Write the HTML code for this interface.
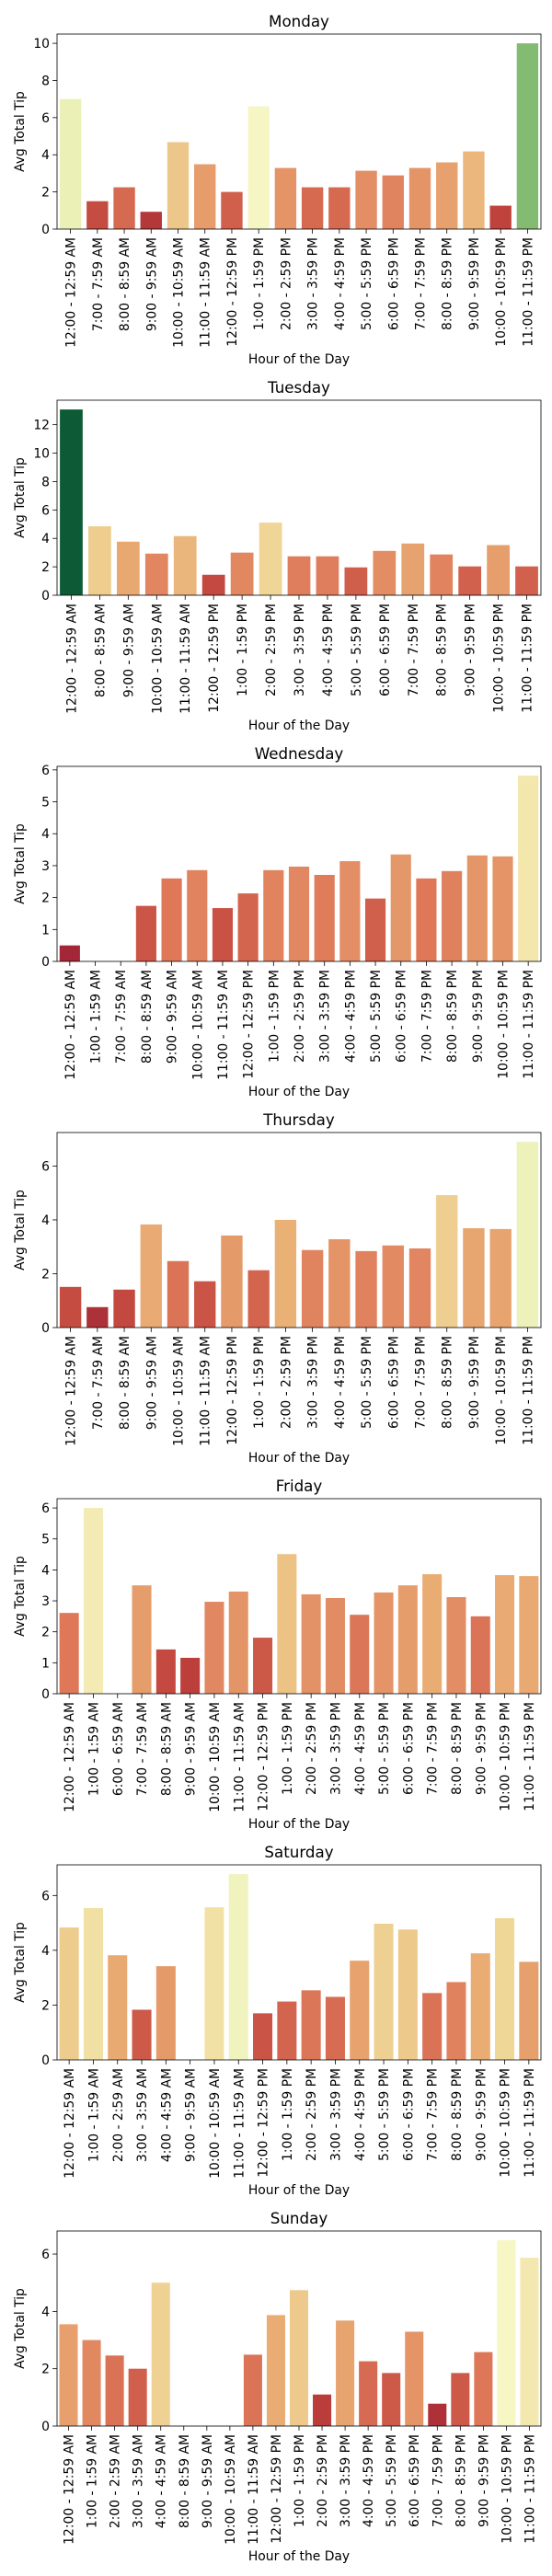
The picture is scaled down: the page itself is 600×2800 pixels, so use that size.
<!DOCTYPE html>
<html><head><meta charset="utf-8"><style>
html,body{margin:0;padding:0;background:#fff;}
svg{display:block;font-family:"DejaVu Sans","Liberation Sans",sans-serif;}
</style></head><body>
<svg id="fig" width="600" height="2800" viewBox="0 0 600 2800" xmlns="http://www.w3.org/2000/svg"></svg>
<script>
const days = ["Monday","Tuesday","Wednesday","Thursday","Friday","Saturday","Sunday"];
const catsMonday = ["12:00 - 12:59 AM","7:00 - 7:59 AM","8:00 - 8:59 AM","9:00 - 9:59 AM","10:00 - 10:59 AM","11:00 - 11:59 AM","12:00 - 12:59 PM","1:00 - 1:59 PM","2:00 - 2:59 PM","3:00 - 3:59 PM","4:00 - 4:59 PM","5:00 - 5:59 PM","6:00 - 6:59 PM","7:00 - 7:59 PM","8:00 - 8:59 PM","9:00 - 9:59 PM","10:00 - 10:59 PM","11:00 - 11:59 PM"];
const valsMonday = [7.0,1.5,2.25,0.93,4.68,3.49,2.0,6.61,3.29,2.25,2.25,3.14,2.89,3.29,3.59,4.18,1.26,10.0];
const catsTuesday = ["12:00 - 12:59 AM","8:00 - 8:59 AM","9:00 - 9:59 AM","10:00 - 10:59 AM","11:00 - 11:59 AM","12:00 - 12:59 PM","1:00 - 1:59 PM","2:00 - 2:59 PM","3:00 - 3:59 PM","4:00 - 4:59 PM","5:00 - 5:59 PM","6:00 - 6:59 PM","7:00 - 7:59 PM","8:00 - 8:59 PM","9:00 - 9:59 PM","10:00 - 10:59 PM","11:00 - 11:59 PM"];
const valsTuesday = [13.07,4.85,3.77,2.93,4.16,1.44,3.0,5.11,2.74,2.74,1.96,3.12,3.64,2.87,2.03,3.53,2.03];
const catsWednesday = ["12:00 - 12:59 AM","1:00 - 1:59 AM","7:00 - 7:59 AM","8:00 - 8:59 AM","9:00 - 9:59 AM","10:00 - 10:59 AM","11:00 - 11:59 AM","12:00 - 12:59 PM","1:00 - 1:59 PM","2:00 - 2:59 PM","3:00 - 3:59 PM","4:00 - 4:59 PM","5:00 - 5:59 PM","6:00 - 6:59 PM","7:00 - 7:59 PM","8:00 - 8:59 PM","9:00 - 9:59 PM","10:00 - 10:59 PM","11:00 - 11:59 PM"];
const valsWednesday = [0.5,0,0,1.74,2.6,2.86,1.67,2.13,2.86,2.97,2.71,3.14,1.97,3.35,2.6,2.83,3.32,3.29,5.82];
const catsThursday = ["12:00 - 12:59 AM","7:00 - 7:59 AM","8:00 - 8:59 AM","9:00 - 9:59 AM","10:00 - 10:59 AM","11:00 - 11:59 AM","12:00 - 12:59 PM","1:00 - 1:59 PM","2:00 - 2:59 PM","3:00 - 3:59 PM","4:00 - 4:59 PM","5:00 - 5:59 PM","6:00 - 6:59 PM","7:00 - 7:59 PM","8:00 - 8:59 PM","9:00 - 9:59 PM","10:00 - 10:59 PM","11:00 - 11:59 PM"];
const valsThursday = [1.51,0.76,1.41,3.83,2.47,1.72,3.42,2.13,4.0,2.88,3.28,2.84,3.05,2.94,4.92,3.69,3.66,6.9];
const catsFriday = ["12:00 - 12:59 AM","1:00 - 1:59 AM","6:00 - 6:59 AM","7:00 - 7:59 AM","8:00 - 8:59 AM","9:00 - 9:59 AM","10:00 - 10:59 AM","11:00 - 11:59 AM","12:00 - 12:59 PM","1:00 - 1:59 PM","2:00 - 2:59 PM","3:00 - 3:59 PM","4:00 - 4:59 PM","5:00 - 5:59 PM","6:00 - 6:59 PM","7:00 - 7:59 PM","8:00 - 8:59 PM","9:00 - 9:59 PM","10:00 - 10:59 PM","11:00 - 11:59 PM"];
const valsFriday = [2.61,6.0,0,3.5,1.43,1.16,2.97,3.3,1.81,4.51,3.21,3.09,2.55,3.27,3.5,3.86,3.12,2.5,3.83,3.8];
const catsSaturday = ["12:00 - 12:59 AM","1:00 - 1:59 AM","2:00 - 2:59 AM","3:00 - 3:59 AM","4:00 - 4:59 AM","9:00 - 9:59 AM","10:00 - 10:59 AM","11:00 - 11:59 AM","12:00 - 12:59 PM","1:00 - 1:59 PM","2:00 - 2:59 PM","3:00 - 3:59 PM","4:00 - 4:59 PM","5:00 - 5:59 PM","6:00 - 6:59 PM","7:00 - 7:59 PM","8:00 - 8:59 PM","9:00 - 9:59 PM","10:00 - 10:59 PM","11:00 - 11:59 PM"];
const valsSaturday = [4.83,5.54,3.82,1.83,3.42,0,5.57,6.78,1.7,2.13,2.54,2.3,3.62,4.97,4.76,2.44,2.84,3.89,5.17,3.58];
const catsSunday = ["12:00 - 12:59 AM","1:00 - 1:59 AM","2:00 - 2:59 AM","3:00 - 3:59 AM","4:00 - 4:59 AM","8:00 - 8:59 AM","9:00 - 9:59 AM","10:00 - 10:59 AM","11:00 - 11:59 AM","12:00 - 12:59 PM","1:00 - 1:59 PM","2:00 - 2:59 PM","3:00 - 3:59 PM","4:00 - 4:59 PM","5:00 - 5:59 PM","6:00 - 6:59 PM","7:00 - 7:59 PM","8:00 - 8:59 PM","9:00 - 9:59 PM","10:00 - 10:59 PM","11:00 - 11:59 PM"];
const valsSunday = [3.55,3.0,2.46,2.0,5.0,0,0,0,2.49,3.87,4.74,1.1,3.68,2.26,1.85,3.29,0.78,1.85,2.58,6.48,5.87];

const allCats = [catsMonday,catsTuesday,catsWednesday,catsThursday,catsFriday,catsSaturday,catsSunday];
const allVals = [valsMonday,valsTuesday,valsWednesday,valsThursday,valsFriday,valsSaturday,valsSunday];

const NS = "http://www.w3.org/2000/svg";
const svg = document.getElementById('fig');
const L = 62, R = 588, PH = 212;
const pal = ["#a50026","#d73027","#f46d43","#fdae61","#fee08b","#ffffbf","#d9ef8b","#a6d96a","#66bd63","#1a9850","#006837"];
function hex(h){return [1,3,5].map(i=>parseInt(h.substr(i,2),16)/255);}
function desat(c,p){
  let [r,g,b]=c; const mx=Math.max(r,g,b), mn=Math.min(r,g,b); let l=(mx+mn)/2, s=0, h=0;
  if(mx!==mn){const d=mx-mn; s=l>0.5?d/(2-mx-mn):d/(mx+mn);
    if(mx===r)h=((g-b)/d+(g<b?6:0)); else if(mx===g)h=(b-r)/d+2; else h=(r-g)/d+4; h/=6;}
  s*=p;
  function hue(p,q,t){if(t<0)t+=1;if(t>1)t-=1;if(t<1/6)return p+(q-p)*6*t;if(t<1/2)return q;if(t<2/3)return p+(q-p)*(2/3-t)*6;return p;}
  if(s===0) return [l,l,l];
  const q=l<0.5?l*(1+s):l+s-l*s, pp=2*l-q;
  return [hue(pp,q,h+1/3),hue(pp,q,h),hue(pp,q,h-1/3)];
}
let gmax = 0; allVals.forEach(a=>a.forEach(v=>{if(v>gmax)gmax=v;}));
function color(v){
  let t=Math.max(0,Math.min(1,v/gmax))*10; const i=Math.min(9,Math.floor(t)); const f=t-i;
  const a=hex(pal[i]), b=hex(pal[i+1]);
  const c=desat([0,1,2].map(k=>a[k]+(b[k]-a[k])*f),0.75);
  return 'rgb('+c.map(x=>Math.round(x*255)).join(',')+')';
}
function mk(tag,attrs,parent){const e=document.createElementNS(NS,tag);for(const k in attrs)e.setAttribute(k,attrs[k]);(parent||svg).appendChild(e);return e;}
function niceStep(max){const raw=max/6;const p=Math.pow(10,Math.floor(Math.log10(raw)));for(const m of [1,2,2.5,5,10]){if(m*p>=raw)return (m===2.5?2:m)*p;}return 10*p;}

days.forEach((day,d)=>{
  const cats=allCats[d], vals=allVals[d], n=cats.length;
  const top = 37 + 398*d, bot = top + PH;
  const vmax = Math.max(...vals)*1.05;
  const y = v => bot - v/vmax*PH;
  const bw = (R-L)/n;
  const x = i => L + (i+0.5)*bw;
  const g = mk('g',{});
  
  
  const t = mk('text',{x:(L+R)/2,y:top-8,'text-anchor':'middle','font-size':'16.7',fill:'#000'},g);
  t.textContent = day;
  
  
  vals.forEach((v,i)=>{
    if(v<=0) return;
    const r = mk('rect',{x:x(i)-0.4*bw,y:y(v),width:0.8*bw,height:bot-y(v),fill:color(v)},g);
    
    
  });
  // y ticks
  let step = vmax>12?2:(vmax>8?2:(vmax>6.5?2:1));
  for(let v=0; v<=vmax+1e-9; v+=step){
    mk('line',{x1:L-4.9,x2:L,y1:y(v),y2:y(v),stroke:'#000','stroke-width':0.8},g);
    const tl = mk('text',{x:L-8,y:y(v)+5,'text-anchor':'end','font-size':'13.9',fill:'#000'},g);
    tl.textContent = String(v);
    
    
  }
  // x ticks
  cats.forEach((c,i)=>{
    mk('line',{x1:x(i),x2:x(i),y1:bot,y2:bot+4.9,stroke:'#000','stroke-width':0.8},g);
    const tl = mk('text',{transform:'translate('+(x(i)+5)+','+(bot+9)+') rotate(-90)','text-anchor':'end','font-size':'13.9',fill:'#000'},g);
    tl.textContent = c;
    
    
  });
  const fr = mk('rect',{x:L,y:top,width:R-L,height:PH,fill:'none',stroke:'#000','stroke-width':0.8},g);
  
  
  const yl = mk('text',{transform:'translate(26,'+(top+PH/2)+') rotate(-90)','text-anchor':'middle','font-size':'13.9',fill:'#000'},g);
  yl.textContent = 'Avg Total Tip';
  
  
  const xl = mk('text',{x:(L+R)/2,y:bot+146,'text-anchor':'middle','font-size':'13.9',fill:'#000'},g);
  xl.textContent = 'Hour of the Day';
  
  
});
</script>
</body></html>
